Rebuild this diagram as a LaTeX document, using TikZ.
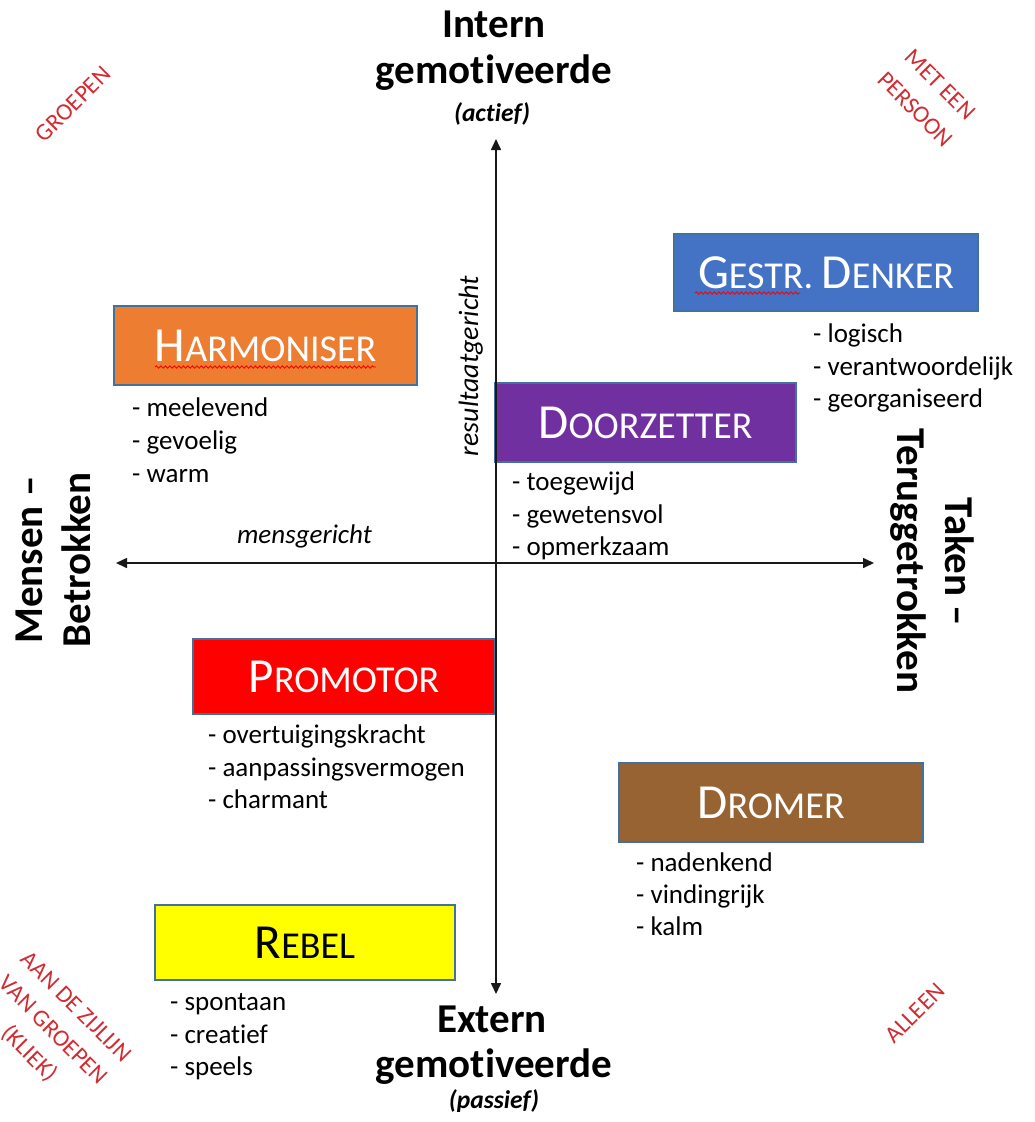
\documentclass[tikz,border=0pt]{standalone}
\usepackage{fontspec}
\setmainfont{Carlito}[Ligatures={NoCommon}]
\usetikzlibrary{arrows.meta,decorations.pathmorphing}
\definecolor{redlab}{RGB}{210,44,50}
\definecolor{boxline}{RGB}{65,113,156}
\definecolor{corange}{RGB}{237,125,49}
\definecolor{cblue}{RGB}{68,114,196}
\definecolor{cpurple}{RGB}{112,48,160}
\definecolor{cred}{RGB}{255,0,0}
\definecolor{cbrown}{RGB}{151,99,50}
\definecolor{cyellow}{RGB}{255,255,0}
\definecolor{axiscol}{RGB}{25,25,25}
\newcommand\bigsc[1]{{\fontsize{49}{55}\selectfont #1}}
\newcommand\smsc[1]{{\fontsize{38}{45}\selectfont #1}}
\begin{document}
\begin{tikzpicture}[x=1pt,y=-1pt,
  box/.style={draw=boxline, line width=1.3pt, inner sep=0pt, text=white},
  item/.style={anchor=base west, inner sep=0pt, font=\fontsize{27}{32}\selectfont},
  axlab/.style={anchor=base, inner sep=0pt, font=\fontsize{41}{48}\selectfont\bfseries},
  sublab/.style={anchor=base, inner sep=0pt, font=\fontsize{25.5}{28}\selectfont\bfseries\itshape},
  dirlab/.style={anchor=base, inner sep=0pt, font=\fontsize{27}{32}\selectfont\itshape},
  redtxt/.style={inner sep=0pt, align=center, text=redlab, font=\fontsize{24}{35}\selectfont},
  axis/.style={line width=1.6pt, draw=axiscol, arrows={Triangle[length=11pt,width=10pt]-Triangle[length=11pt,width=10pt]}},
  squiggle/.style={draw=red, line width=0.9pt, decorate, decoration={snake, amplitude=1.2pt, segment length=4.5pt}}
]
\useasboundingbox (0,0) rectangle (1034,1122);

% boxes
\node[box, fill=corange, minimum width=303pt, minimum height=79pt] (harm) at (265.5,345.5) {\bigsc{H}\smsc{ARMONISER}};
\node[box, fill=cblue, minimum width=304pt, minimum height=77pt] (gestr) at (826,272.5) {\bigsc{G}\smsc{ESTR.\ }\bigsc{D}\smsc{ENKER}};
\node[box, fill=cpurple, minimum width=301pt, minimum height=79pt] (door) at (645.5,422.5) {\bigsc{D}\smsc{OORZETTER}};
\node[box, fill=cred, minimum width=302pt, minimum height=75pt] (prom) at (344,676.5) {\bigsc{P}\smsc{ROMOTOR}};
\node[box, fill=cbrown, minimum width=304pt, minimum height=79pt] (drom) at (771,802.5) {\bigsc{D}\smsc{ROMER}};
\node[box, fill=cyellow, text=black, minimum width=300pt, minimum height=75pt] (rebel) at (305,942.5) {\bigsc{R}\smsc{EBEL}};

% spell-check squiggles
\draw[squiggle] (155,367) -- (376,367);
\draw[squiggle] (695,293) -- (800,293);

% lists
\node[item] (h1) at (132,416) {- meelevend};
\node[item] (h2) at (132,449) {- gevoelig};
\node[item] (h3) at (132,482) {- warm};

\node[item] (g1) at (813,342.5) {- logisch};
\node[item] (g2) at (813,375) {- verantwoordelijk};
\node[item] (g3) at (813,407) {- georganiseerd};

\node[item] (d1) at (512,490) {- toegewijd};
\node[item] (d2) at (512,523) {- gewetensvol};
\node[item] (d3) at (512,555) {- opmerkzaam};

\node[item] (p1) at (208,743.5) {- overtuigingskracht};
\node[item] (p2) at (208,776.5) {- aanpassingsvermogen};
\node[item] (p3) at (208,808.5) {- charmant};

\node[item] (r1) at (636,871) {- nadenkend};
\node[item] (r2) at (636,903.5) {- vindingrijk};
\node[item] (r3) at (636,935.5) {- kalm};

\node[item] (b1) at (170,1010.5) {- spontaan};
\node[item] (b2) at (170,1043) {- creatief};
\node[item] (b3) at (170,1075.5) {- speels};

% axes
\coordinate (vtop) at (496,139);
\coordinate (vbot) at (496,994);
\coordinate (hl) at (116,563);
\coordinate (hr) at (874,563);
\draw[axis] (vbot) -- (vtop);
\draw[axis] (hl) -- (hr);

% axis labels
\node[axlab] (intern) at (494,37) {Intern};
\node[axlab] (gemo1) at (494,83) {gemotiveerde};
\node[sublab] (actief) at (492,121) {(actief)};
\node[axlab] (extern) at (492,1032) {Extern};
\node[axlab] (gemo2) at (494,1077) {gemotiveerde};
\node[sublab] (passief) at (494,1108) {(passief)};

\node[axlab, rotate=90] (mensen) at (42,560) {Mensen –};
\node[axlab, rotate=90] (betrokken) at (90,560) {Betrokken};
\node[axlab, rotate=-90] (taken) at (945,562) {Taken –};
\node[axlab, rotate=-90] (terug) at (897,561) {Teruggetrokken};

\node[dirlab] (mens) at (304.5,543) {mensgericht};
\node[dirlab, rotate=90, font=\fontsize{28}{32}\selectfont\itshape] (result) at (478,366) {resultaatgericht};

% red corner labels
\node[redtxt, rotate=45] (groepen) at (73,104) {GROEPEN};
\node[redtxt, rotate=-45] (persoon) at (928,97) {MET EEN\\PERSOON};
\node[redtxt, rotate=45] (alleen) at (915,1013) {ALLEEN};
\node[redtxt, rotate=-45, font=\fontsize{24}{33}\selectfont] (kliek) at (52,1031) {AAN DE ZIJLIJN\\VAN GROEPEN\\(KLIEK)};
\end{tikzpicture}
\end{document}
